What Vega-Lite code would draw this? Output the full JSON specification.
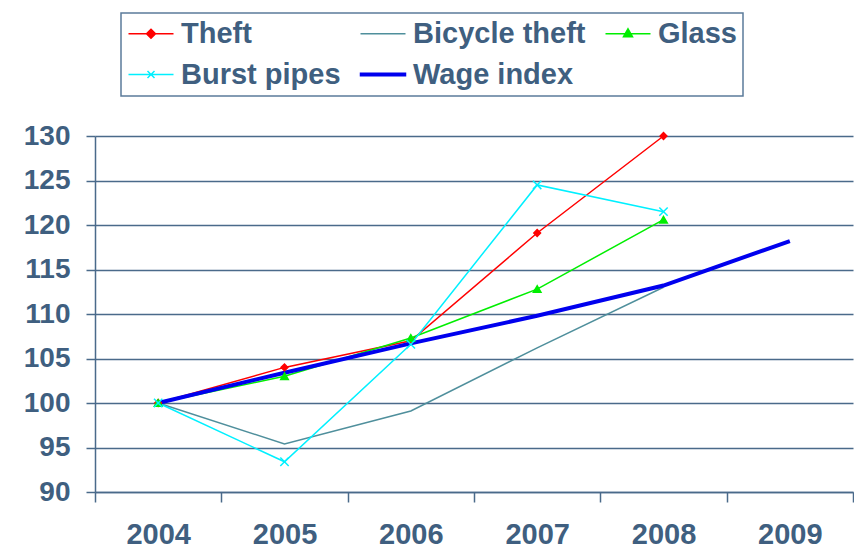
{
  "$schema": "https://vega.github.io/schema/vega-lite/v6.json",
  "width": 758,
  "height": 356,
  "autosize": {"type": "none"},
  "padding": {"left": 95, "top": 136, "right": 1, "bottom": 57},
  "background": "white",
  "config": {"view": {"stroke": null}, "font": "Liberation Sans"},
  "data": {
    "values": [
      {"year": "2004", "series": "Theft", "value": 100},
      {"year": "2005", "series": "Theft", "value": 104.0},
      {"year": "2006", "series": "Theft", "value": 107.0},
      {"year": "2007", "series": "Theft", "value": 119.1},
      {"year": "2008", "series": "Theft", "value": 130.0},
      {"year": "2004", "series": "Bicycle theft", "value": 100},
      {"year": "2005", "series": "Bicycle theft", "value": 95.4},
      {"year": "2006", "series": "Bicycle theft", "value": 99.1},
      {"year": "2007", "series": "Bicycle theft", "value": 106.2},
      {"year": "2008", "series": "Bicycle theft", "value": 113.0},
      {"year": "2004", "series": "Glass", "value": 100},
      {"year": "2005", "series": "Glass", "value": 103.0},
      {"year": "2006", "series": "Glass", "value": 107.3},
      {"year": "2007", "series": "Glass", "value": 112.8},
      {"year": "2008", "series": "Glass", "value": 120.6},
      {"year": "2004", "series": "Burst pipes", "value": 100},
      {"year": "2005", "series": "Burst pipes", "value": 93.4},
      {"year": "2006", "series": "Burst pipes", "value": 106.6},
      {"year": "2007", "series": "Burst pipes", "value": 124.5},
      {"year": "2008", "series": "Burst pipes", "value": 121.5},
      {"year": "2004", "series": "Wage index", "value": 100},
      {"year": "2005", "series": "Wage index", "value": 103.4},
      {"year": "2006", "series": "Wage index", "value": 106.7},
      {"year": "2007", "series": "Wage index", "value": 109.8},
      {"year": "2008", "series": "Wage index", "value": 113.2},
      {"year": "2009", "series": "Wage index", "value": 118.2}
    ]
  },
  "encoding": {
    "x": {
      "field": "year",
      "type": "ordinal",
      "scale": {"type": "band", "paddingInner": 0, "paddingOuter": 0},
      "axis": {
        "title": null,
        "labelAngle": 0,
        "tickBand": "extent",
        "tickSize": 10,
        "tickWidth": 1.5,
        "tickColor": "#4a6a8a",
        "domainColor": "#4a6a8a",
        "domainWidth": 1.5,
        "labelFontSize": 29,
        "labelFontWeight": "bold",
        "labelColor": "#3f5f80",
        "labelPadding": 18,
        "grid": false
      }
    },
    "y": {
      "field": "value",
      "type": "quantitative",
      "scale": {"domain": [90, 130], "nice": false, "zero": false},
      "axis": {
        "title": null,
        "values": [90, 95, 100, 105, 110, 115, 120, 125, 130],
        "tickSize": 9,
        "tickWidth": 1.5,
        "tickColor": "#4a6a8a",
        "domainColor": "#4a6a8a",
        "domainWidth": 1.5,
        "gridColor": "#4a6a8a",
        "gridWidth": 1.5,
        "labelFontSize": 28,
        "labelFontWeight": "bold",
        "labelColor": "#3f5f80",
        "labelPadding": 16
      }
    }
  },
  "layer": [
    {
      "mark": {"type": "line"},
      "encoding": {
        "color": {
          "field": "series",
          "type": "nominal",
          "scale": {
            "domain": ["Theft", "Bicycle theft", "Glass", "Burst pipes", "Wage index"],
            "range": ["#ff0000", "#4f8f9c", "#00ee00", "#00f0ff", "#0000ee"]
          },
          "legend": {
            "title": null,
            "orient": "none",
            "legendX": 26,
            "legendY": -123,
            "direction": "horizontal",
            "columns": 3,
            "columnPadding": 16,
            "rowPadding": 11,
            "padding": 6,
            "strokeColor": "#5b7b9a",
            "symbolSize": 400,
            "symbolType": "stroke",
            "symbolStrokeWidth": 1.5,
            "labelFontSize": 29,
            "labelFontWeight": "bold",
            "labelColor": "#3f5f80",
            "labelOffset": 25,
            "labelLimit": 400,
            "encode": {
              "legend": {"update": {"strokeWidth": {"value": 1.5}}},
              "symbols": {
                "update": {
                  "shape": {"signal": "datum.value === 'Theft' ? 'M-1.3,0L3.2,0M0.95,-0.45L1.4,0L0.95,0.45L0.5,0Z' : datum.value === 'Glass' ? 'M-1.3,0L3.2,0M0.95,-0.5L1.4,0.3L0.5,0.3Z' : datum.value === 'Burst pipes' ? 'M-1.3,0L3.2,0M0.6,-0.35L1.3,0.35M1.3,-0.35L0.6,0.35' : datum.value === 'Wage index' ? 'M-1.3,-0.13L3.2,-0.13L3.2,0.13L-1.3,0.13Z' : 'M-1.3,0L3.2,0'"},
                  "fill": {"signal": "datum.value === 'Theft' ? '#ff0000' : datum.value === 'Glass' ? '#00ee00' : datum.value === 'Wage index' ? '#0000ee' : 'transparent'"},
                  "fillOpacity": {"value": 1}
                }
              }
            }
          }
        },
        "strokeWidth": {
          "condition": {"test": "datum.series === 'Wage index'", "value": 4},
          "value": 1.5
        }
      }
    },
    {
      "transform": [{"filter": "datum.series === 'Theft' || datum.series === 'Glass' || datum.series === 'Burst pipes'"}],
      "mark": {"type": "point", "filled": true, "opacity": 1, "strokeWidth": 1.5},
      "encoding": {
        "shape": {
          "field": "series",
          "type": "nominal",
          "scale": {
            "domain": ["Theft", "Glass", "Burst pipes"],
            "range": ["diamond", "triangle-up", "M-1,-1L1,1M1,-1L-1,1"]
          },
          "legend": null
        },
        "fill": {
          "field": "series",
          "type": "nominal",
          "scale": {
            "domain": ["Theft", "Glass", "Burst pipes"],
            "range": ["#ff0000", "#00ee00", "transparent"]
          },
          "legend": null
        },
        "stroke": {
          "field": "series",
          "type": "nominal",
          "scale": {
            "domain": ["Theft", "Glass", "Burst pipes"],
            "range": ["#ff0000", "#00ee00", "#00f0ff"]
          },
          "legend": null
        },
        "size": {
          "field": "series",
          "type": "nominal",
          "scale": {
            "domain": ["Theft", "Glass", "Burst pipes"],
            "range": [45, 70, 70]
          },
          "legend": null
        }
      }
    }
  ]
}
